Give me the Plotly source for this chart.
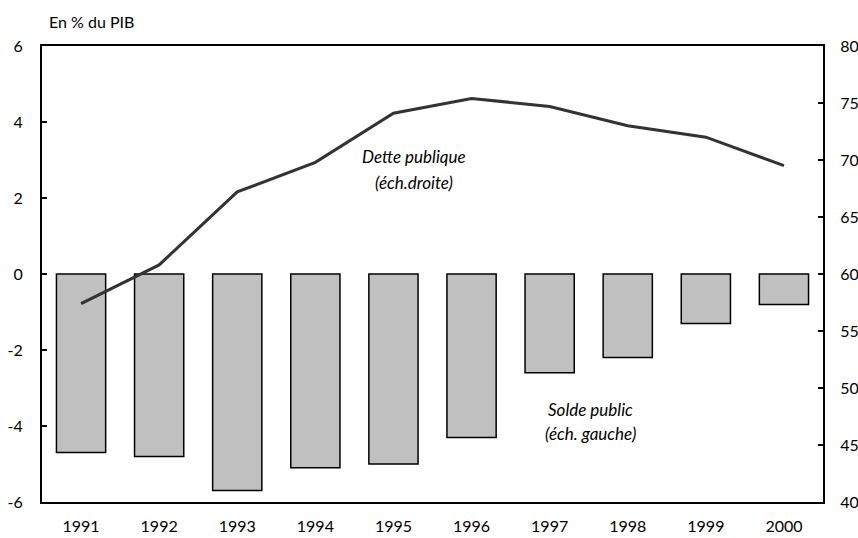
import plotly.graph_objects as go

years = ["1991", "1992", "1993", "1994", "1995", "1996", "1997", "1998", "1999", "2000"]
solde_public = [-4.7, -4.8, -5.7, -5.1, -5.0, -4.3, -2.6, -2.2, -1.3, -0.8]
dette_publique = [57.4, 60.8, 67.2, 69.8, 74.1, 75.4, 74.7, 73.0, 72.0, 69.5]
left_ticks = [-6, -4, -2, 0, 2, 4, 6]
right_ticks = [40, 45, 50, 55, 60, 65, 70, 75, 80]

FONT = "Lato, 'Open Sans', sans-serif"

fig = go.Figure()
fig.add_trace(go.Bar(x=years, y=solde_public, marker=dict(color="#c0c0c0", line=dict(color="black", width=1.5)),
                     yaxis="y", showlegend=False))
fig.add_trace(go.Scatter(x=years, y=dette_publique, mode="lines", line=dict(color="#333333", width=3),
                         yaxis="y2", showlegend=False))

fig.update_layout(
    width=858, height=538,
    margin=dict(l=42, r=35, t=46, b=36, autoexpand=False),
    plot_bgcolor="white", paper_bgcolor="white",
    bargap=0.37,
    font=dict(family=FONT, size=16, color="black"),
    xaxis=dict(showline=True, linecolor="black", linewidth=2, mirror=True, ticks="", showgrid=False,
               tickfont=dict(size=16), ticklabelstandoff=9, automargin=False),
    yaxis=dict(range=[-6, 6], tickvals=left_ticks, ticktext=[str(v) for v in left_ticks],
               showline=True, linecolor="black", linewidth=2,
               ticks="inside", ticklen=5, tickcolor="black", tickwidth=1.5, showgrid=False, zeroline=False,
               tickfont=dict(size=16), ticklabelstandoff=14, automargin=False),
    yaxis2=dict(range=[40, 80], tickvals=right_ticks, ticktext=[str(v) for v in right_ticks],
                overlaying="y", side="right", showline=True,
                linecolor="black", linewidth=2, ticks="inside", ticklen=5, tickcolor="black", tickwidth=1.5,
                showgrid=False, zeroline=False, tickfont=dict(size=16), ticklabelstandoff=12,
                automargin=False),
    annotations=[
        dict(text="En % du PIB", xref="paper", yref="paper", x=0.007, y=1.053, xanchor="left",
             yanchor="middle", showarrow=False, font=dict(size=16)),
        dict(text="<i>Dette publique</i>", xref="paper", yref="paper", x=0.476, y=0.757,
             xanchor="center", yanchor="middle", showarrow=False, font=dict(size=17)),
        dict(text="<i>(éch.droite)</i>", xref="paper", yref="paper", x=0.476, y=0.700,
             xanchor="center", yanchor="middle", showarrow=False, font=dict(size=17)),
        dict(text="<i>Solde public</i>", xref="paper", yref="paper", x=0.702, y=0.202,
             xanchor="center", yanchor="middle", showarrow=False, font=dict(size=17)),
        dict(text="<i>(éch. gauche)</i>", xref="paper", yref="paper", x=0.702, y=0.150,
             xanchor="center", yanchor="middle", showarrow=False, font=dict(size=17)),
    ],
)

fig.write_html("out.html", config={"displayModeBar": False},
               post_script="document.body.style.margin='0';document.body.style.overflow='hidden';")
